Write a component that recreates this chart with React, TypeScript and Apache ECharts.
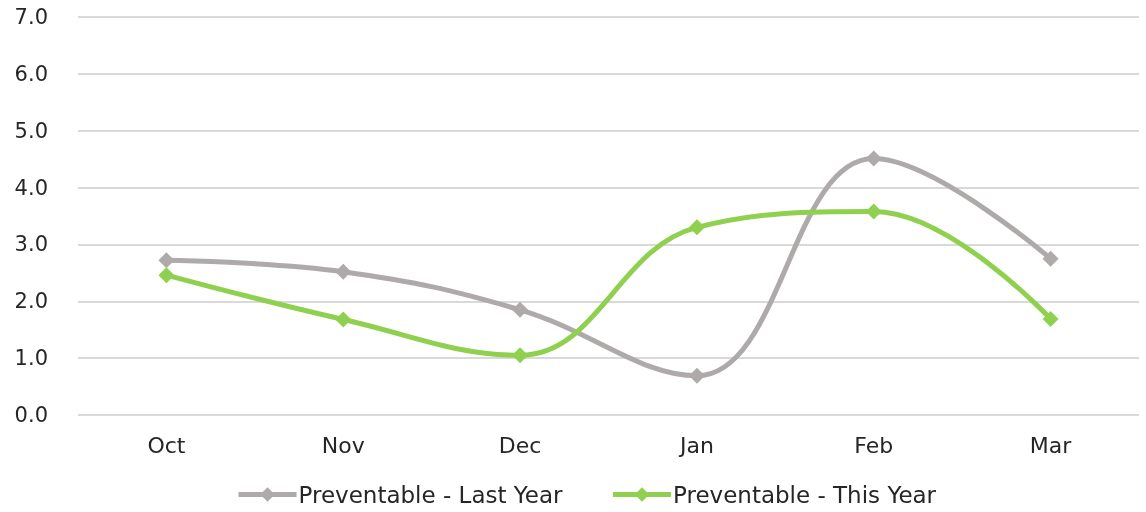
import React, { useEffect, useRef } from "react";
import * as echarts from "echarts";

const months = ["Oct", "Nov", "Dec", "Jan", "Feb", "Mar"];
const lastYear = [2.72, 2.52, 1.85, 0.69, 4.51, 2.75];
const thisYear = [2.46, 1.68, 1.05, 3.3, 3.58, 1.69];
const yTicks = { min: 0, max: 7, interval: 1 };

const FONT = "'DejaVu Sans', sans-serif";
const TEXT = "#262626";

export default function App() {
  const ref = useRef<HTMLDivElement>(null);
  useEffect(() => {
    if (!ref.current) return;
    const chart = echarts.init(ref.current, undefined, { renderer: "svg" });
    chart.setOption({
      animation: false,
      textStyle: { fontFamily: FONT },
      grid: { left: 78, right: 7, top: 17, bottom: 97, containLabel: false },
      xAxis: {
        type: "category",
        data: months,
        boundaryGap: true,
        axisLine: { show: false },
        axisTick: { show: false },
        axisLabel: { color: TEXT, fontSize: 22, margin: 19, fontFamily: FONT },
      },
      yAxis: {
        type: "value",
        min: yTicks.min,
        max: yTicks.max,
        interval: yTicks.interval,
        axisLine: { show: false },
        axisTick: { show: false },
        splitLine: { lineStyle: { color: "#D9D9D9", width: 2 } },
        axisLabel: {
          color: TEXT,
          fontSize: 21,
          margin: 30,
          fontFamily: FONT,
          formatter: (v: number) => v.toFixed(1),
        },
      },
      legend: {
        bottom: 1,
        left: 231,
        itemWidth: 58,
        itemHeight: 18,
        itemGap: 48,
        lineStyle: { width: 5 },
        textStyle: { fontSize: 23, color: TEXT, fontFamily: FONT, padding: [0, 0, 0, -3] },
        data: ["Preventable - Last Year", "Preventable - This Year"],
      },
      series: [
        {
          name: "Preventable - Last Year",
          type: "line",
          data: lastYear,
          smooth: 0.4,
          symbol: "diamond",
          symbolSize: 16,
          lineStyle: { color: "#AEAAA9", width: 5 },
          itemStyle: { color: "#AEAAA9" },
        },
        {
          name: "Preventable - This Year",
          type: "line",
          data: thisYear,
          smooth: 0.4,
          symbol: "diamond",
          symbolSize: 16,
          lineStyle: { color: "#8FD14F", width: 5 },
          itemStyle: { color: "#8FD14F" },
        },
      ],
    });
    return () => chart.dispose();
  }, []);
  return (
    <div
      ref={ref}
      style={{ position: "fixed", left: 0, top: 0, width: 1146, height: 512 }}
    />
  );
}
